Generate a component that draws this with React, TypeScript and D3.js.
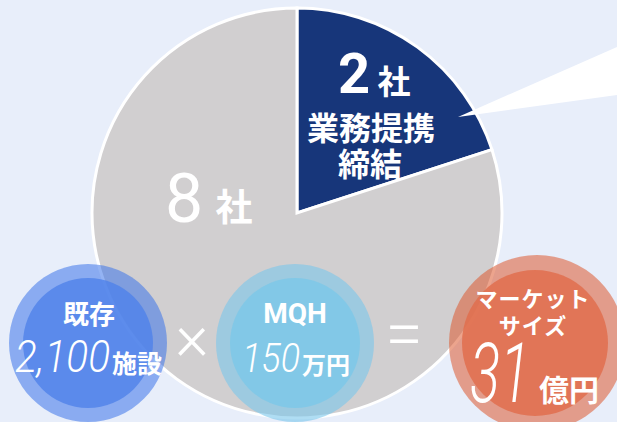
import React from "react";
import * as d3 from "d3";

const sliceNames = ["業務提携締結", "その他"];
const sliceCounts = [2, 8];
const sliceColors = ["#17367a", "#d1cfd0"];

const factorTitles = ["既存", "MQH", "マーケット"];
const factorValues = ["2,100", "150", "31"];
const factorUnits = ["施設", "万円", "億円"];

const W = 617;
const H = 422;
const JP = "'Noto Sans CJK JP', 'Noto Sans', sans-serif";
const NUM = "Roboto, 'Noto Sans', sans-serif";

export default function App() {
  const cx = 297;
  const cy = 213;
  const r = 205;
  const pie = d3.pie<number>().sort(null).startAngle(0).endAngle(2 * Math.PI);
  const arcs = pie(sliceCounts);
  const arc = d3.arc<d3.PieArcDatum<number>>().innerRadius(0).outerRadius(r);

  return (
    <svg
      width={W}
      height={H}
      style={{ position: "absolute", left: 0, top: 0, display: "block" }}
    >
      <rect width={W} height={H} fill="#e8eefa" />
      <g transform={`translate(${cx},${cy})`}>
        {arcs.map((a, i) => (
          <path
            key={sliceNames[i]}
            d={arc(a) || ""}
            fill={sliceColors[i]}
            stroke="#ffffff"
            strokeWidth={3}
            strokeLinejoin="miter"
          />
        ))}
      </g>
      {/* callout wedge */}
      <polygon points="458,117 617,47 617,95" fill="#ffffff" />

      {/* slice labels */}
      <g fill="#ffffff" fontFamily={JP}>
        <text x={354} y={93} fontFamily={NUM} fontWeight={700} fontSize={56} textAnchor="middle">
          {sliceCounts[0]}
        </text>
        <text x={394} y={80} fontWeight={700} fontSize={33} textAnchor="middle" dominantBaseline="central">
          社
        </text>
        <text x={371} y={126} fontWeight={700} fontSize={32} textAnchor="middle" dominantBaseline="central">
          {sliceNames[0].slice(0, 4)}
        </text>
        <text x={370} y={162} fontWeight={700} fontSize={32} textAnchor="middle" dominantBaseline="central">
          {sliceNames[0].slice(4)}
        </text>
        <text x={184} y={222} fontFamily={NUM} fontWeight={400} fontSize={68} textAnchor="middle">
          {sliceCounts[1]}
        </text>
        <text x={234} y={205} fontWeight={700} fontSize={37} textAnchor="middle" dominantBaseline="central">
          社
        </text>
      </g>

      {/* blue circle */}
      <circle cx={88} cy={343} r={79} fill="#3d74ea" fillOpacity={0.55} />
      <circle cx={88} cy={343} r={65} fill="#4f82ea" fillOpacity={0.8} />
      {/* teal circle */}
      <circle cx={295} cy={343} r={79} fill="#79c6eb" fillOpacity={0.6} />
      <circle cx={295} cy={343} r={65} fill="#7ec8e8" fillOpacity={0.85} />
      {/* orange circle */}
      <circle cx={537} cy={343} r={88} fill="#dc5a30" fillOpacity={0.55} />
      <circle cx={535} cy={343} r={73} fill="#e06e4e" fillOpacity={0.85} />

      <g fill="#ffffff" fontFamily={JP}>
        <text x={89} y={312} fontWeight={700} fontSize={26} textAnchor="middle" dominantBaseline="central">
          {factorTitles[0]}
        </text>
        <text x={15} y={372} fontFamily={NUM} fontWeight={300} fontStyle="italic" fontSize={45} textLength={95} lengthAdjust="spacingAndGlyphs">
          {factorValues[0]}
        </text>
        <text x={137} y={362} fontWeight={700} fontSize={25} textAnchor="middle" dominantBaseline="central">
          {factorUnits[0]}
        </text>

        <text x={192} y={337} fontFamily={NUM} fontWeight={300} fontSize={64} textAnchor="middle" dominantBaseline="central">
          ×
        </text>

        <text x={295} y={323} fontFamily={NUM} fontWeight={700} fontSize={28} textAnchor="middle">
          {factorTitles[1]}
        </text>
        <text x={242} y={372} fontFamily={NUM} fontWeight={300} fontStyle="italic" fontSize={41} textLength={58} lengthAdjust="spacingAndGlyphs">
          {factorValues[1]}
        </text>
        <text x={326} y={363} fontWeight={700} fontSize={24} textAnchor="middle" dominantBaseline="central">
          {factorUnits[1]}
        </text>

        <text x={404} y={334} fontFamily={NUM} fontWeight={300} fontSize={68} textAnchor="middle" dominantBaseline="central">
          =
        </text>

        <text x={533} y={297} fontWeight={700} fontSize={22} textAnchor="middle" dominantBaseline="central" letterSpacing={1}>
          {factorTitles[2]}
        </text>
        <text x={533} y={324} fontWeight={700} fontSize={22} textAnchor="middle" dominantBaseline="central" letterSpacing={1}>
          サイズ
        </text>
        <text x={470} y={402} fontFamily={NUM} fontWeight={300} fontStyle="italic" fontSize={84} textLength={60} lengthAdjust="spacingAndGlyphs">
          {factorValues[2]}
        </text>
        <text x={569} y={388} fontWeight={700} fontSize={30} textAnchor="middle" dominantBaseline="central">
          {factorUnits[2]}
        </text>
      </g>
    </svg>
  );
}
